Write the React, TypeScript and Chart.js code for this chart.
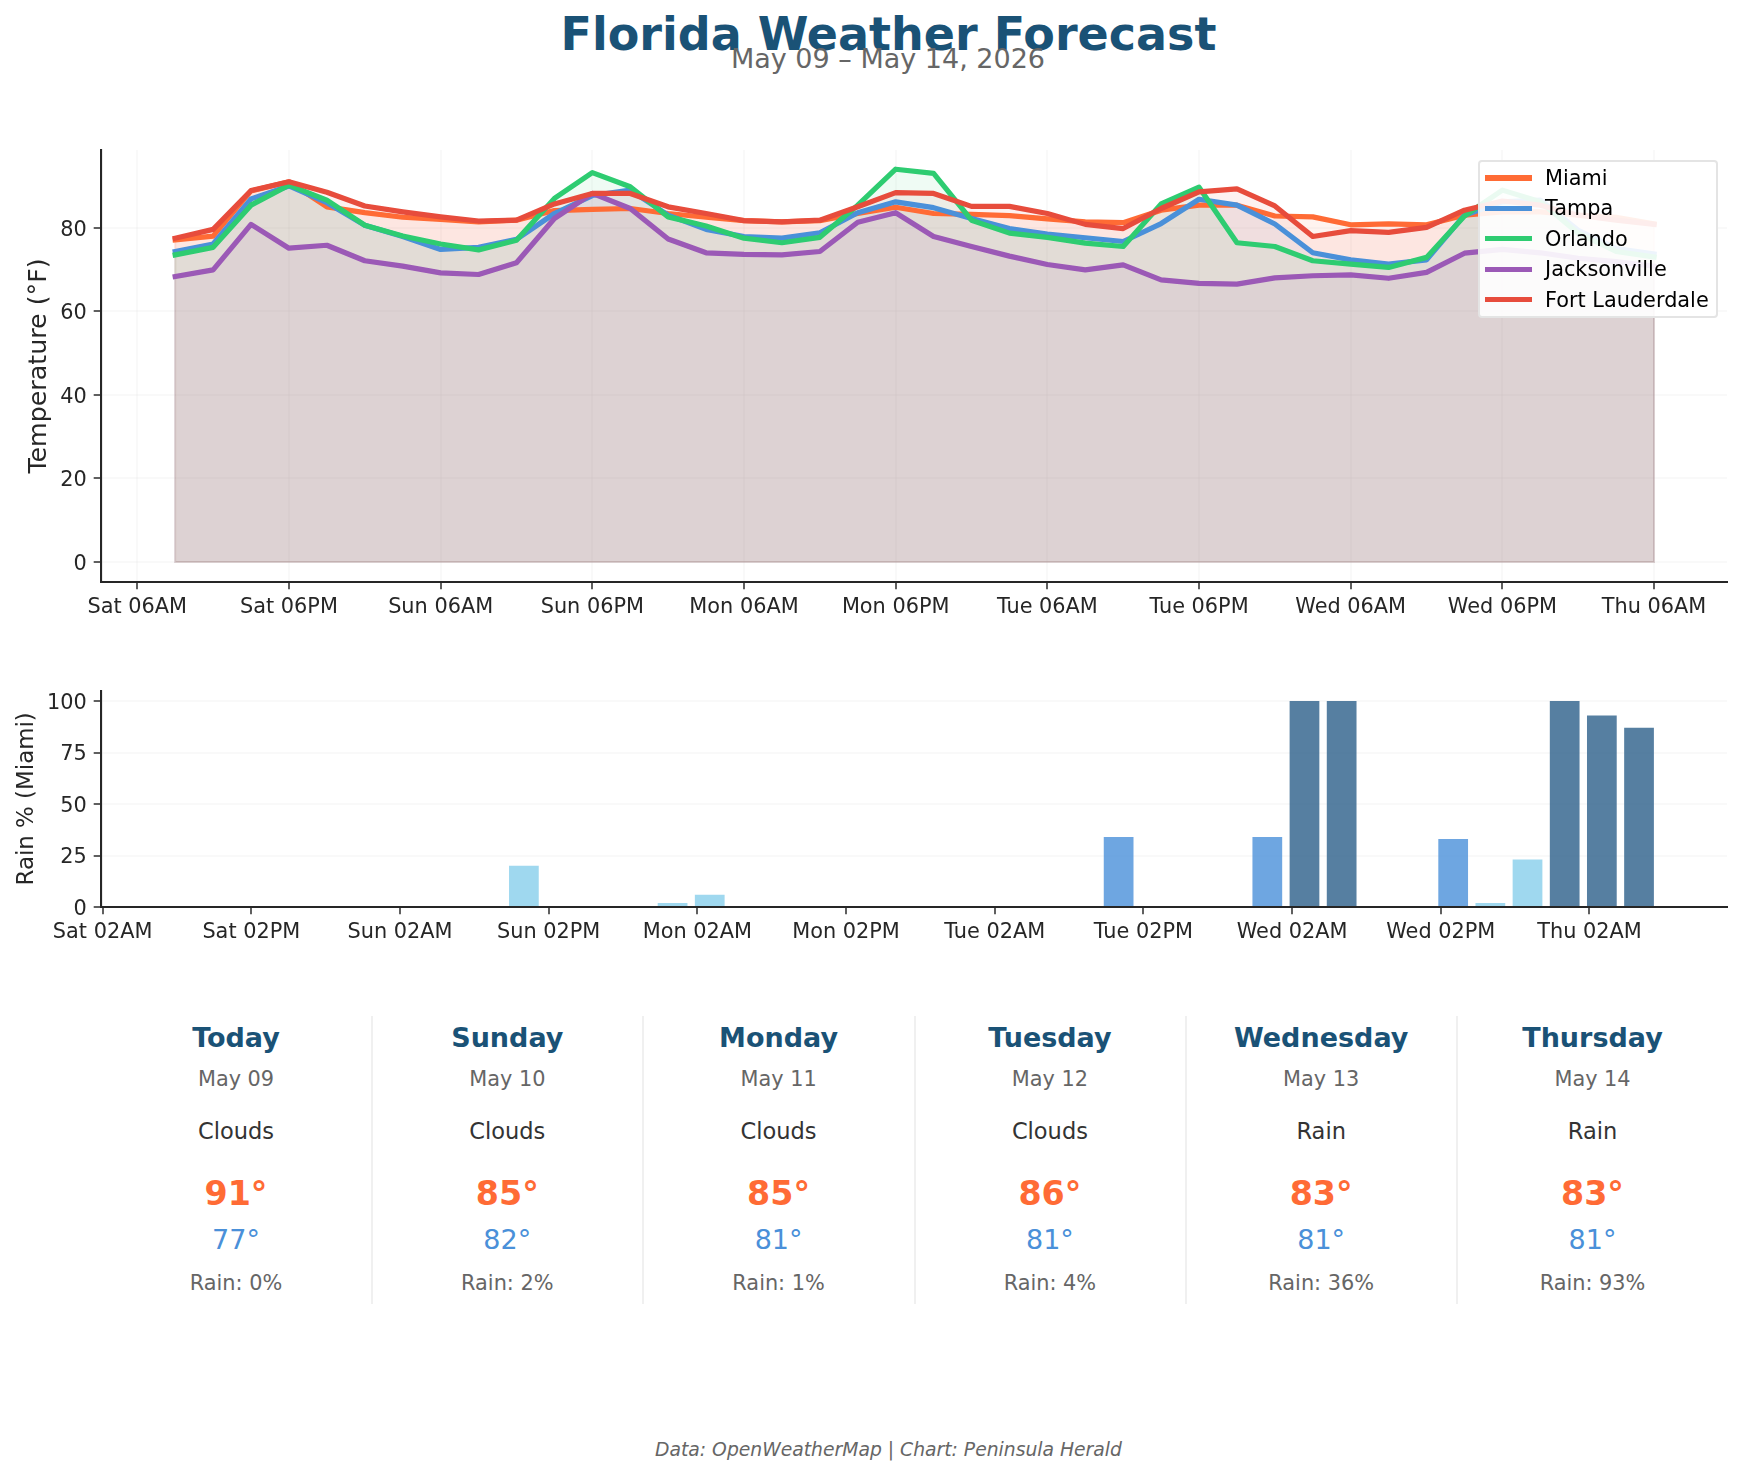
import React, { useEffect, useRef } from 'react';
import { Chart, registerables } from 'chart.js';

Chart.register(...registerables);

const FONT = '"DejaVu Sans"';
const INK = '#262626';

// hours after Sat 06AM
const tempHours = [3, 6, 9, 12, 15, 18, 21, 24, 27, 30, 33, 36, 39, 42, 45, 48, 51, 54, 57, 60, 63, 66, 69, 72, 75, 78, 81, 84, 87, 90, 93, 96, 99, 102, 105, 108, 111, 114, 117, 120];
const tempTicks = [0, 12, 24, 36, 48, 60, 72, 84, 96, 108, 120];
const tempTickLabels = ['Sat 06AM', 'Sat 06PM', 'Sun 06AM', 'Sun 06PM', 'Mon 06AM', 'Mon 06PM', 'Tue 06AM', 'Tue 06PM', 'Wed 06AM', 'Wed 06PM', 'Thu 06AM'];

const miami = [77.1, 78, 88.8, 91, 85, 83.6, 82.5, 82, 81.4, 81.8, 84.1, 84.4, 84.6, 83.4, 82.5, 81.7, 81.4, 81.7, 83.4, 84.9, 83.4, 83.2, 82.9, 82.1, 81.4, 81.2, 84.2, 85.4, 85.4, 82.8, 82.6, 80.7, 80.9, 80.7, 83, 83.8, 83.8, 83, 82.5, 80.9];
const tampa = [74.3, 76.1, 86.9, 90, 86, 80.6, 77.9, 74.8, 75.3, 77.2, 83.4, 87.7, 89, 83, 79.6, 77.9, 77.5, 78.8, 83.6, 86.2, 84.8, 82.2, 79.8, 78.5, 77.6, 76.7, 81, 86.8, 85.4, 80.9, 74, 72.3, 71.3, 72.3, 83, 86.2, 86.6, 79.4, 75, 73.7];
const orlando = [73.5, 75.3, 85.4, 90.2, 86.6, 80.6, 78, 76.1, 74.7, 77, 87, 93.2, 89.8, 82.6, 80.4, 77.5, 76.4, 77.7, 85.4, 94, 93, 81.8, 78.7, 77.7, 76.3, 75.5, 85.7, 89.7, 76.4, 75.5, 72.1, 71.3, 70.5, 72.9, 82.8, 89, 86.2, 78.7, 74.3, 73];
const jacksonville = [68.3, 69.9, 80.8, 75.1, 75.8, 72.1, 70.8, 69.2, 68.8, 71.6, 82.2, 88.2, 84.6, 77.3, 74, 73.6, 73.5, 74.3, 81.3, 83.6, 77.9, 75.5, 73.2, 71.2, 69.9, 71.1, 67.5, 66.7, 66.5, 68, 68.5, 68.7, 67.9, 69.3, 73.9, 74.8, 74, 72.7, 71.9, 70.8];
const fortLauderdale = [77.5, 79.6, 88.9, 91, 88.5, 85.2, 83.8, 82.6, 81.6, 81.8, 85.7, 88.2, 88.2, 85, 83.4, 81.7, 81.4, 81.8, 85, 88.4, 88.2, 85.1, 85.1, 83.4, 80.8, 79.8, 84.6, 88.6, 89.3, 85.2, 77.9, 79.3, 78.9, 80.1, 84.2, 86.4, 85.4, 83, 81.8, 80.8];

const seriesNames = ['Miami', 'Tampa', 'Orlando', 'Jacksonville', 'Fort Lauderdale'];
const seriesValues = [miami, tampa, orlando, jacksonville, fortLauderdale];
const seriesColors = ['#FF6B35', '#4A90D9', '#2ECC71', '#9B59B6', '#E74C3C'];
const seriesFills = ['rgba(255,107,53,0.08)', 'rgba(74,144,217,0.08)', 'rgba(46,204,113,0.08)', 'rgba(155,89,182,0.08)', 'rgba(231,76,60,0.08)'];

// hours after Sat 02AM
const rainHours = [7, 10, 13, 16, 19, 22, 25, 28, 31, 34, 37, 40, 43, 46, 49, 52, 55, 58, 61, 64, 67, 70, 73, 76, 79, 82, 85, 88, 91, 94, 97, 100, 103, 106, 109, 112, 115, 118, 121, 124];
const rainTicks = [0, 12, 24, 36, 48, 60, 72, 84, 96, 108, 120];
const rainTickLabels = ['Sat 02AM', 'Sat 02PM', 'Sun 02AM', 'Sun 02PM', 'Mon 02AM', 'Mon 02PM', 'Tue 02AM', 'Tue 02PM', 'Wed 02AM', 'Wed 02PM', 'Thu 02AM'];
const rainMiami = [0, 0, 0, 0, 0, 0, 0, 0, 0, 20, 0, 0, 0, 2, 6, 0, 0, 0, 0, 0, 0, 0, 0, 0, 0, 34, 0, 0, 0, 34, 100, 100, 0, 0, 33, 2, 23, 100, 93, 87];

const dayNames = ['Today', 'Sunday', 'Monday', 'Tuesday', 'Wednesday', 'Thursday'];
const dayDates = ['May 09', 'May 10', 'May 11', 'May 12', 'May 13', 'May 14'];
const dayConditions = ['Clouds', 'Clouds', 'Clouds', 'Clouds', 'Rain', 'Rain'];
const dayHighs = [91, 85, 85, 86, 83, 83];
const dayLows = [77, 82, 81, 81, 81, 81];
const dayRain = [0, 2, 1, 4, 36, 93];

const rainColor = (v: number) => {
  if (v >= 60) return 'rgba(44,95,138,0.8)';
  if (v >= 30) return 'rgba(74,144,217,0.8)';
  return 'rgba(135,206,235,0.8)';
};

// fill_between leaves a thin edge around each area
const areaEdges = {
  id: 'areaEdges',
  beforeDatasetsDraw(chart: any) {
    const { ctx, scales } = chart;
    const zero = scales.y.getPixelForValue(0);
    const left = scales.x.getPixelForValue(tempHours[0]);
    const right = scales.x.getPixelForValue(tempHours[tempHours.length - 1]);
    ctx.save();
    ctx.lineWidth = 2;
    seriesValues.forEach((values, i) => {
      ctx.strokeStyle = seriesFills[i];
      ctx.beginPath();
      ctx.moveTo(left, scales.y.getPixelForValue(values[0]));
      ctx.lineTo(left, zero);
      ctx.lineTo(right, zero);
      ctx.lineTo(right, scales.y.getPixelForValue(values[values.length - 1]));
      ctx.stroke();
    });
    ctx.restore();
  },
};

const axisX = (min: number, max: number, ticks: number[], labels: string[], showGrid: boolean) => ({
  type: 'linear',
  min,
  max,
  offset: false,
  afterFit: (scale: any) => {
    scale.height = 60;
  },
  afterBuildTicks: (scale: any) => {
    scale.ticks = ticks.map((value) => ({ value }));
  },
  grid: {
    offset: false,
    display: true,
    drawOnChartArea: showGrid,
    color: 'rgba(0,0,0,0.025)',
    lineWidth: 2,
    tickColor: '#444444',
    tickWidth: 1.7,
    tickLength: 7.3,
  },
  border: { color: INK, width: 2.1, z: 1 },
  ticks: {
    autoSkip: false,
    maxRotation: 0,
    minRotation: 0,
    padding: 6,
    color: INK,
    font: { family: FONT, size: 20.83 },
    callback: (value: number) => labels[ticks.indexOf(value)],
  },
});

const axisY = (min: number, max: number, ticks: number[], title: string, size: number, pad: number) => ({
  min,
  max,
  afterFit: (scale: any) => {
    scale.width = 101;
  },
  afterBuildTicks: (scale: any) => {
    scale.ticks = ticks.map((value) => ({ value }));
  },
  title: {
    display: true,
    text: title,
    color: INK,
    font: { family: FONT, size },
    padding: { top: pad, bottom: 0 },
  },
  grid: {
    color: 'rgba(0,0,0,0.025)',
    lineWidth: 2,
    tickColor: '#444444',
    tickWidth: 1.7,
    tickLength: 7.3,
  },
  border: { color: INK, width: 2.1 },
  ticks: {
    padding: 7,
    labelOffset: 2.5,
    color: INK,
    font: { family: FONT, size: 20.83 },
  },
});

const TempChart = () => {
  const canvasRef = useRef<HTMLCanvasElement>(null);

  useEffect(() => {
    if (!canvasRef.current) return;

    const chart = new Chart(canvasRef.current, {
      type: 'line',
      data: {
        datasets: seriesNames.map((name, i) => ({
          label: name,
          data: tempHours.map((h, k) => ({ x: h, y: seriesValues[i][k] })),
          borderColor: seriesColors[i],
          backgroundColor: seriesFills[i],
          borderWidth: 5.2,
          borderJoinStyle: 'round',
          borderCapStyle: 'square',
          pointRadius: 0,
          tension: 0,
          fill: 'origin',
          order: seriesNames.length - i,
        })),
      },
      options: {
        animation: false,
        responsive: false,
        devicePixelRatio: 1,
        layout: { padding: { top: 30, right: 16, left: 0, bottom: 0 } },
        plugins: {
          legend: { display: false },
          tooltip: { enabled: false },
          filler: { drawTime: 'beforeDatasetsDraw' },
        },
        scales: {
          x: axisX(-2.87, 125.77, tempTicks, tempTickLabels, true),
          y: axisY(-4.79, 98.6, [0, 20, 40, 60, 80], 'Temperature (°F)', 25.3, 24),
        },
      },
      plugins: [areaEdges],
    } as any);

    return () => {
      chart.destroy();
    };
  }, []);

  return <canvas ref={canvasRef} width={1743} height={522} style={{ position: 'absolute', left: 0, top: 120 }} />;
};

const RainChart = () => {
  const canvasRef = useRef<HTMLCanvasElement>(null);

  useEffect(() => {
    if (!canvasRef.current) return;

    const chart = new Chart(canvasRef.current, {
      type: 'bar',
      data: {
        datasets: [
          {
            label: 'Rain % (Miami)',
            data: rainHours.map((h, k) => ({ x: h, y: rainMiami[k] })),
            backgroundColor: rainMiami.map(rainColor),
            categoryPercentage: 0.8,
            barPercentage: 1,
          },
        ],
      },
      options: {
        animation: false,
        responsive: false,
        devicePixelRatio: 1,
        layout: { padding: { top: 20.7, right: 16, left: 0, bottom: 0 } },
        plugins: {
          legend: { display: false },
          tooltip: { enabled: false },
        },
        scales: {
          x: axisX(-0.13, 131.1, rainTicks, rainTickLabels, false),
          y: axisY(0, 105, [0, 25, 50, 75, 100], 'Rain % (Miami)', 22.9, 13.6),
        },
      },
    } as any);

    return () => {
      chart.destroy();
    };
  }, []);

  return <canvas ref={canvasRef} width={1743} height={297} style={{ position: 'absolute', left: 0, top: 670 }} />;
};

const Label = ({ x, y, size, color, bold, italic, children }: any) => (
  <div
    style={{
      position: 'absolute',
      left: x,
      top: y,
      transform: 'translate(-50%, -50%)',
      fontFamily: FONT,
      fontSize: size,
      fontWeight: bold ? 'bold' : 'normal',
      fontStyle: italic ? 'italic' : 'normal',
      color,
      whiteSpace: 'nowrap',
      lineHeight: 1,
    }}
  >
    {children}
  </div>
);

const Legend = () => (
  <div
    style={{
      position: 'absolute',
      left: 1478,
      top: 160,
      width: 240,
      height: 158,
      boxSizing: 'border-box',
      background: 'rgba(255,255,255,0.9)',
      border: '2px solid #e4e4e4',
      borderRadius: 4,
    }}
  >
    {seriesNames.map((name, i) => (
      <React.Fragment key={name}>
        <div
          style={{
            position: 'absolute',
            left: 5,
            top: 13.4 + 30.4 * i,
            width: 47,
            height: 5.2,
            background: seriesColors[i],
          }}
        />
        <div
          style={{
            position: 'absolute',
            left: 65,
            top: 16 + 30.4 * i,
            transform: 'translateY(-50%)',
            fontFamily: FONT,
            fontSize: 20.83,
            lineHeight: 1,
            color: '#000',
            whiteSpace: 'nowrap',
          }}
        >
          {name}
        </div>
      </React.Fragment>
    ))}
  </div>
);

const DayCards = () => (
  <>
    {dayNames.map((name, i) => {
      const x = 236 + 271.3 * i;
      return (
        <React.Fragment key={name}>
          <Label x={x} y={1037} size={27} color="#1A5276" bold>{name}</Label>
          <Label x={x} y={1079} size={20.83} color="#666666">{dayDates[i]}</Label>
          <Label x={x} y={1131} size={22.5} color="#333333">{dayConditions[i]}</Label>
          <Label x={x} y={1194} size={33.3} color="#FF6B35" bold>{dayHighs[i]}°</Label>
          <Label x={x} y={1239} size={27} color="#4A90D9">{dayLows[i]}°</Label>
          <Label x={x} y={1283} size={20.83} color="#666666">Rain: {dayRain[i]}%</Label>
          {i < dayNames.length - 1 && (
            <div style={{ position: 'absolute', left: x + 135, top: 1016, width: 2, height: 288, background: '#f0f0f0' }} />
          )}
        </React.Fragment>
      );
    })}
  </>
);

const App = () => (
  <div style={{ position: 'absolute', left: 0, top: 0, width: 1743, height: 1474, background: '#fff', overflow: 'hidden' }}>
    <Label x={888.5} y={34} size={46} color="#1A5276" bold>Florida Weather Forecast</Label>
    <Label x={888} y={58} size={27} color="#666666">May 09 – May 14, 2026</Label>
    <TempChart />
    <RainChart />
    <Legend />
    <DayCards />
    <Label x={888.5} y={1450} size={18.75} color="#666666" italic>Data: OpenWeatherMap | Chart: Peninsula Herald</Label>
  </div>
);

export default App;
